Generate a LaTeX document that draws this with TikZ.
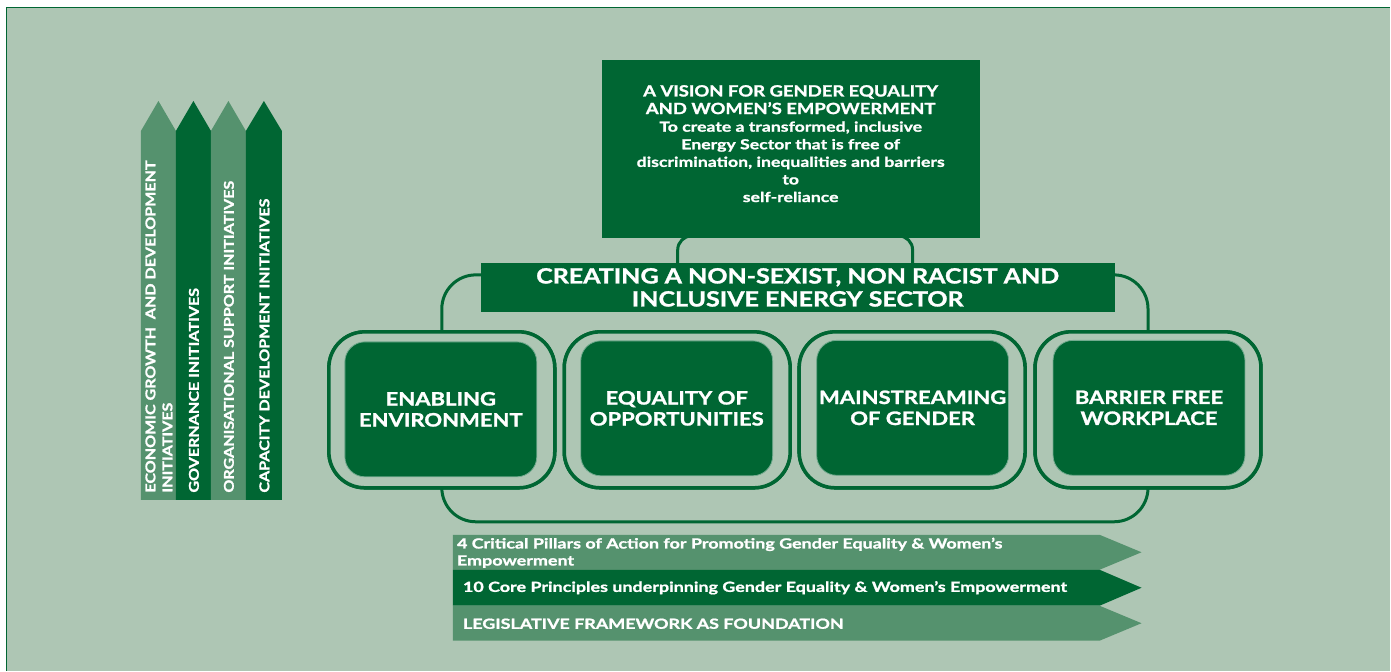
\documentclass[tikz,border=0pt]{standalone}
\usepackage{fontspec}
\setmainfont{Lato}
\newfontfamily\capsfnt[FakeStretch=1.19, FakeBold=1.4]{Lato}
\newfontfamily\bodyfnt[FakeStretch=1.28, FakeBold=1.2]{Lato}
\definecolor{bg}{HTML}{AEC6B4}
\definecolor{dg}{HTML}{006633}
\definecolor{lg}{HTML}{55926E}
\begin{document}
\begin{tikzpicture}[x=1pt,y=-1pt,
  conn/.style={draw=dg, line width=3pt},
  pframe/.style={draw=dg, line width=3.5pt, fill=bg, rounded corners=36pt,
    minimum width=226pt, minimum height=156pt, inner sep=0pt},
  pillar/.style={fill=dg, draw=white!45!dg, line width=0.8pt, rounded corners=20pt,
    minimum width=192pt, minimum height=135pt, inner sep=0pt, text=white, align=center,
    font=\capsfnt\bfseries\fontsize{18.5}{21}\selectfont},
  vtext/.style={rotate=90, anchor=west, text=white, align=left, inner sep=0pt,
    font=\capsfnt\bfseries\fontsize{13.5}{17}\selectfont},
  htext/.style={anchor=west, text=white, align=left, inner sep=0pt,
    font=\bodyfnt\bfseries\fontsize{14}{17}\selectfont},
  ]
% canvas and background
\path[fill=white] (0,0) rectangle (1391,671);
\path[fill=bg] (6,7) rectangle (1391,671);
\draw[dg, line width=1.2pt] (6.5,671) -- (6.5,7.5) -- (1391,7.5);

% vertical arrows
\fill[lg] (141,500) -- (141,131) -- (158.5,101) -- (176,131) -- (176,500) -- cycle;
\fill[dg] (176,500) -- (176,131) -- (193.5,101) -- (211,131) -- (211,500) -- cycle;
\fill[lg] (211,500) -- (211,131) -- (228.5,101) -- (246,131) -- (246,500) -- cycle;
\fill[dg] (246,500) -- (246,131) -- (264,101) -- (282,131) -- (282,500) -- cycle;
\node[vtext] (v1) at (159,493) {ECONOMIC GROWTH \ AND DEVELOPMENT\\INITIATIVES};
\node[vtext] (v2) at (194,493) {GOVERNANCE INITIATIVES};
\node[vtext] (v3) at (229,493) {ORGANISATIONAL SUPPORT INITIATIVES};
\node[vtext] (v4) at (264.5,493) {CAPACITY DEVELOPMENT INITIATIVES};

% frames
\node[pframe] (f1) at (442,410) {};
\node[pframe] (f2) at (677.5,410) {};
\node[pframe] (f3) at (912.5,410) {};
\node[pframe] (f4) at (1148.5,410) {};
\coordinate (cl) at (481,275);
\coordinate (cr) at (1115,275);
\coordinate (vl) at (678,264);
\coordinate (vr) at (913,264);
\coordinate (bot) at (795,522);

% connectors
\draw[conn, rounded corners=34pt] (cl) -| (f1.north);
\draw[conn, rounded corners=34pt] (cr) -| (f4.north);
\draw[conn, rounded corners=34pt] (f1.south) |- (bot) -| (f4.south);
\draw[conn, rounded corners=14pt] (vl) -- ++(0,-28) -| (vr);

% frames redrawn on top of connector ends
\node[pframe] at (f1) {};
\node[pframe] at (f2) {};
\node[pframe] at (f3) {};
\node[pframe] at (f4) {};

% pillars
\node[pillar] (p1) at (441,409.5) {ENABLING\\ENVIRONMENT};
\node[pillar] (p2) at (677,408.5) {EQUALITY OF\\OPPORTUNITIES};
\node[pillar] (p3) at (913,408) {MAINSTREAMING\\OF GENDER};
\node[pillar] (p4) at (1149.5,408) {BARRIER FREE\\WORKPLACE};

% vision box
\node[fill=dg, minimum width=378pt, minimum height=178pt, inner sep=0pt] (vision) at (791,149) {};
\node[text=white, align=center, inner sep=0pt, anchor=north,
  font=\bodyfnt\bfseries\fontsize{13.8}{17.6}\selectfont] (vtxt) at (791,85)
  {{\capsfnt\bfseries\fontsize{15.5}{18.5}\selectfont A VISION FOR GENDER EQUALITY}\\
   {\capsfnt\bfseries\fontsize{15.5}{18.5}\selectfont AND WOMEN’S EMPOWERMENT}\\
   To create a transformed, inclusive\\
   Energy Sector that is free of\\
   discrimination, inequalities and barriers\\
   to\\
   self-reliance};

% creating box
\node[fill=dg, minimum width=634pt, minimum height=49pt, inner sep=0pt, text=white,
  align=center, font=\capsfnt\bfseries\fontsize{21}{23}\selectfont] (creating) at (798,287.5)
  {CREATING A NON-SEXIST, NON RACIST AND\\INCLUSIVE ENERGY SECTOR};

% horizontal arrows
\fill[lg] (453,535) -- (1100,535) -- (1142,552.5) -- (1100,570) -- (453,570) -- cycle;
\fill[dg] (453,570) -- (1100,570) -- (1142,588) -- (1100,606) -- (453,606) -- cycle;
\fill[lg] (453,606) -- (1100,606) -- (1142,623.5) -- (1100,641) -- (453,641) -- cycle;
\node[htext] (h1) at (457,553) {4 Critical Pillars of Action for Promoting Gender Equality \& Women’s\\Empowerment};
\node[htext] (h2) at (463,588) {10 Core Principles underpinning Gender Equality \& Women’s Empowerment};
\node[htext] (h3) at (463,624) {LEGISLATIVE FRAMEWORK AS FOUNDATION};
\end{tikzpicture}
\end{document}
